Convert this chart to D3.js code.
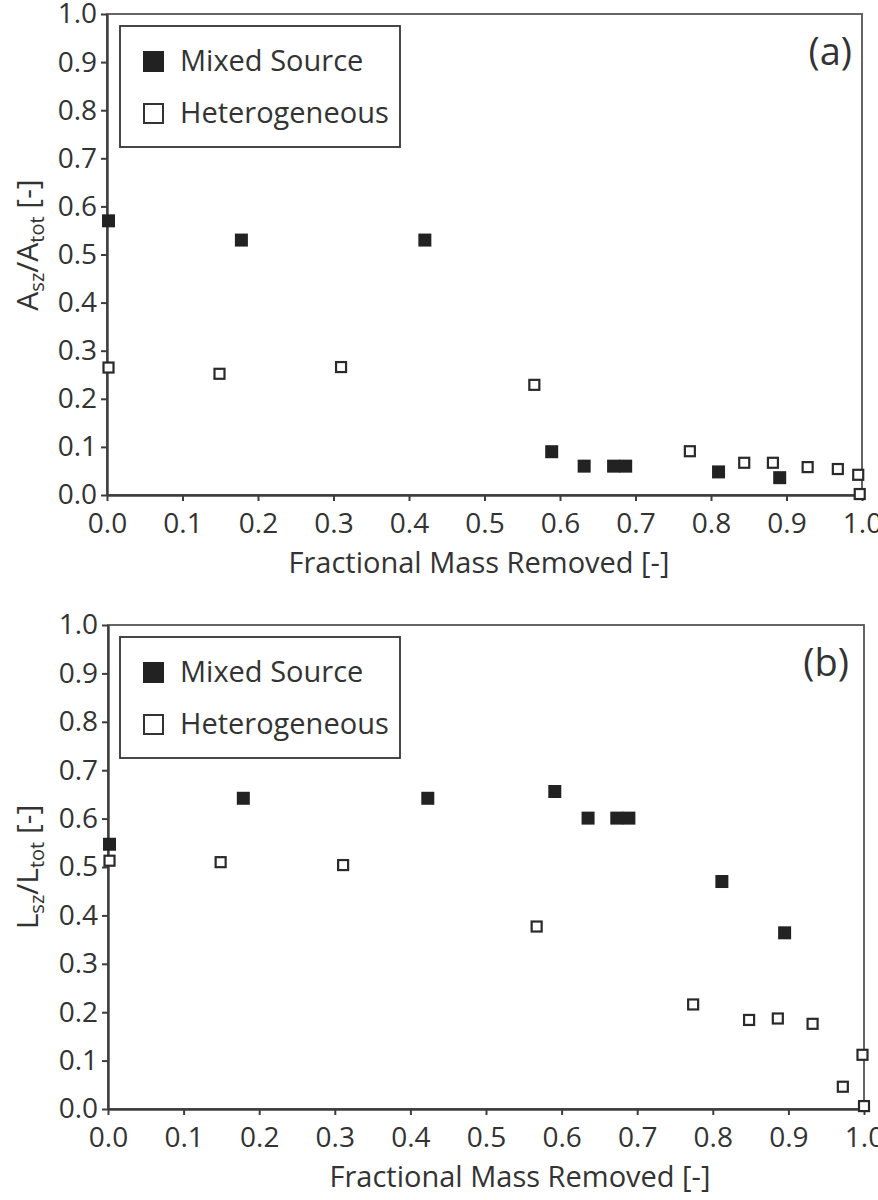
<!DOCTYPE html>
<html>
<head>
<meta charset="utf-8">
<script src="https://cdn.jsdelivr.net/npm/d3@7"></script>
<style>
  html, body { margin: 0; padding: 0; background: #fff; }
  svg { display: block; }
  text { font-family: "Open Sans", "Noto Sans", sans-serif; fill: #333; }
</style>
</head>
<body>
<svg id="chart" width="878" height="1200"></svg>
<script>
// ---------- data ----------
const tickValues = [0.0, 0.1, 0.2, 0.3, 0.4, 0.5, 0.6, 0.7, 0.8, 0.9, 1.0];
const seriesNames = ["Mixed Source", "Heterogeneous"];
const panelLabels = ["(a)", "(b)"];
const xTitle = "Fractional Mass Removed [-]";

// panel (a): A_sz / A_tot
const xMixedA = [0.002, 0.178, 0.421, 0.589, 0.632, 0.671, 0.687, 0.810, 0.891];
const yMixedA = [0.570, 0.530, 0.530, 0.090, 0.060, 0.060, 0.060, 0.048, 0.036];
const xHetA   = [0.002, 0.149, 0.310, 0.566, 0.772, 0.844, 0.882, 0.928, 0.968, 0.995, 0.997];
const yHetA   = [0.265, 0.252, 0.266, 0.229, 0.091, 0.067, 0.067, 0.058, 0.054, 0.042, 0.002];

// panel (b): L_sz / L_tot
const xMixedB = [0.002, 0.179, 0.423, 0.591, 0.635, 0.673, 0.689, 0.812, 0.895];
const yMixedB = [0.547, 0.642, 0.642, 0.656, 0.601, 0.601, 0.601, 0.470, 0.364];
const xHetB   = [0.002, 0.149, 0.311, 0.567, 0.774, 0.848, 0.886, 0.932, 0.972, 0.998, 1.000];
const yHetB   = [0.513, 0.510, 0.504, 0.377, 0.216, 0.184, 0.187, 0.176, 0.046, 0.112, 0.006];

// ---------- layout ----------
const panels = [
  { left: 107, right: 862, top: 14, bottom: 495, yMain: "A", label: panelLabels[0],
    labelX: 852, titleX: 479, yTitleY: 245,
    mixed: xMixedA.map((x, i) => [x, yMixedA[i]]),
    het: xHetA.map((x, i) => [x, yHetA[i]]) },
  { left: 108, right: 864, top: 625, bottom: 1109, yMain: "L", label: panelLabels[1],
    labelX: 849, titleX: 520, yTitleY: 867,
    mixed: xMixedB.map((x, i) => [x, yMixedB[i]]),
    het: xHetB.map((x, i) => [x, yHetB[i]]) }
];

const svg = d3.select("#chart");
const axisColor = "#3d3d3d";
const fs = 28;
const fsText = 29;

panels.forEach(p => {
  const x = d3.scaleLinear().domain([0, 1]).range([p.left, p.right]);
  const y = d3.scaleLinear().domain([0, 1]).range([p.bottom, p.top]);
  const g = svg.append("g");

  // frame (top & right)
  g.append("rect")
    .attr("x", p.left).attr("y", p.top)
    .attr("width", p.right - p.left).attr("height", p.bottom - p.top)
    .attr("fill", "none").attr("stroke", "#555").attr("stroke-width", 1.8);

  // x axis
  const xa = g.append("g").attr("transform", `translate(0,${p.bottom})`)
    .call(d3.axisBottom(x).tickValues(tickValues).tickFormat(d3.format(".1f"))
      .tickSize(6).tickPadding(12).tickSizeOuter(0));
  // y axis
  const ya = g.append("g").attr("transform", `translate(${p.left},0)`)
    .call(d3.axisLeft(y).tickValues(tickValues).tickFormat(d3.format(".1f"))
      .tickSize(6).tickPadding(4).tickSizeOuter(0));
  [xa, ya].forEach(a => {
    a.select(".domain").attr("stroke", axisColor).attr("stroke-width", 2.4);
    a.selectAll(".tick line").attr("stroke", axisColor).attr("stroke-width", 2);
    a.selectAll(".tick text").attr("font-size", fs).attr("fill", "#333")
      .style("font-family", '"Open Sans", sans-serif');
  });

  // x title
  g.append("text").attr("x", p.titleX).attr("y", p.bottom + 78)
    .attr("text-anchor", "middle").attr("font-size", fsText).text(xTitle);

  // y title with subscripts
  const yt = g.append("text")
    .attr("transform", `translate(38,${p.yTitleY}) rotate(-90)`)
    .attr("text-anchor", "middle").attr("font-size", 30);
  yt.append("tspan").text(p.yMain);
  yt.append("tspan").attr("font-size", 20).attr("dy", 6).text("sz");
  yt.append("tspan").attr("dy", -6).text("/" + p.yMain);
  yt.append("tspan").attr("font-size", 20).attr("dy", 6).text("tot");
  yt.append("tspan").attr("dy", -6).text(" [-]");

  // panel label
  g.append("text").attr("x", p.labelX).attr("y", p.top + 51)
    .attr("text-anchor", "end").attr("font-size", 38).text(p.label);

  // legend
  const lg = g.append("g");
  lg.append("rect").attr("x", 120).attr("y", p.top + 12)
    .attr("width", 280).attr("height", 121)
    .attr("fill", "#fff").attr("stroke", "#333").attr("stroke-width", 1.8);
  const rows = [p.top + 47, p.top + 99];
  lg.append("rect").attr("x", 143).attr("y", rows[0] - 10).attr("width", 21).attr("height", 21)
    .attr("fill", "#222");
  lg.append("rect").attr("x", 144).attr("y", rows[1] - 9).attr("width", 19).attr("height", 19)
    .attr("fill", "#fff").attr("stroke", "#333").attr("stroke-width", 2);
  lg.append("text").attr("x", 180).attr("y", rows[0] + 10).attr("font-size", fsText).text(seriesNames[0]);
  lg.append("text").attr("x", 180).attr("y", rows[1] + 10).attr("font-size", fsText).text(seriesNames[1]);

  // markers
  g.selectAll("rect.het").data(p.het).enter().append("rect").attr("class", "het")
    .attr("x", d => x(d[0]) - 5).attr("y", d => y(d[1]) - 5)
    .attr("width", 10).attr("height", 10)
    .attr("fill", "#fff").attr("stroke", "#2a2a2a").attr("stroke-width", 2.2);
  g.selectAll("rect.mix").data(p.mixed).enter().append("rect").attr("class", "mix")
    .attr("x", d => x(d[0]) - 6.5).attr("y", d => y(d[1]) - 6.5)
    .attr("width", 13).attr("height", 13)
    .attr("fill", "#222");
});
</script>
</body>
</html>
